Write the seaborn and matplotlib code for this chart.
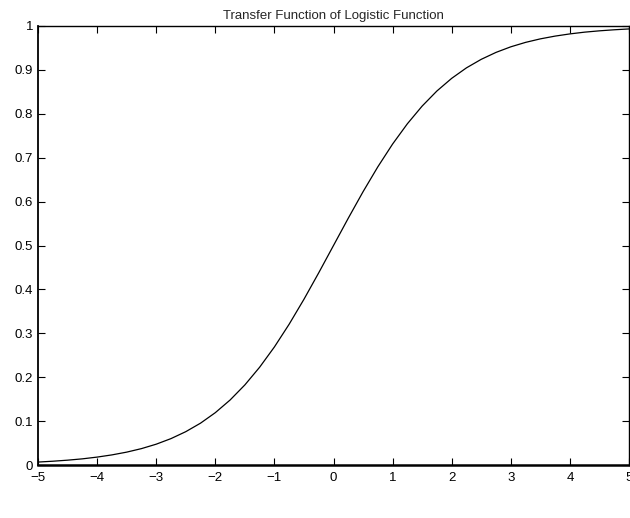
import matplotlib
matplotlib.use("Agg")
import matplotlib.pyplot as plt
import seaborn as sns
import pandas as pd

x_vals = [-5, -4.75, -4.5, -4.25, -4, -3.75, -3.5, -3.25, -3, -2.75, -2.5, -2.25,
          -2, -1.75, -1.5, -1.25, -1, -0.75, -0.5, -0.25, 0, 0.25, 0.5, 0.75,
          1, 1.25, 1.5, 1.75, 2, 2.25, 2.5, 2.75, 3, 3.25, 3.5, 3.75, 4, 4.25,
          4.5, 4.75, 5]
y_vals = [0.0067, 0.0086, 0.0110, 0.0140, 0.0180, 0.0230, 0.0293, 0.0373, 0.0474,
          0.0601, 0.0759, 0.0953, 0.1192, 0.1480, 0.1824, 0.2227, 0.2689, 0.3208,
          0.3775, 0.4378, 0.5, 0.5622, 0.6225, 0.6792, 0.7311, 0.7773, 0.8176,
          0.8520, 0.8808, 0.9047, 0.9241, 0.9399, 0.9526, 0.9627, 0.9707, 0.9770,
          0.9820, 0.9860, 0.9890, 0.9914, 0.9933]
x_ticks = [-5, -4, -3, -2, -1, 0, 1, 2, 3, 4, 5]
y_ticks = [0, 0.1, 0.2, 0.3, 0.4, 0.5, 0.6, 0.7, 0.8, 0.9, 1]
y_tick_labels = ["0", "0.1", "0.2", "0.3", "0.4", "0.5", "0.6", "0.7", "0.8", "0.9", "1"]
x_tick_labels = ["\u22125", "\u22124", "\u22123", "\u22122", "\u22121", "0", "1", "2", "3", "4", "5"]
title = "Transfer Function of Logistic Function"

sns.set_style("ticks")
plt.rcParams['font.family'] = ['Liberation Sans', 'DejaVu Sans']
plt.rcParams['font.size'] = 9.5

df = pd.DataFrame({"x": x_vals, "y": y_vals})

fig = plt.figure(figsize=(6.3, 5.18), dpi=100)
ax = fig.add_axes([38 / 630, 1 - 465 / 518, 591 / 630, (465 - 26) / 518])
sns.lineplot(data=df, x="x", y="y", ax=ax, color="black", linewidth=0.9)

ax.set_xlim(-5, 5)
ax.set_ylim(0, 1)
ax.set_xticks(x_ticks)
ax.set_xticklabels(x_tick_labels)
ax.set_yticks(y_ticks)
ax.set_yticklabels(y_tick_labels)
ax.set_xlabel("")
ax.set_ylabel("")
ax.set_title(title, fontsize=9.5, pad=5)
ax.tick_params(direction="in", length=5, width=0.8, top=True, right=True,
               labelsize=9.5, colors="black")
ax.tick_params(axis="x", pad=5)
ax.tick_params(axis="y", pad=3.5)
for s in ax.spines.values():
    s.set_visible(True)
    s.set_linewidth(1.0)
    s.set_color("black")
ax.spines['bottom'].set_linewidth(1.8)
ax.spines['left'].set_linewidth(1.3)

fig.savefig("out.png", dpi=100, facecolor="white")
